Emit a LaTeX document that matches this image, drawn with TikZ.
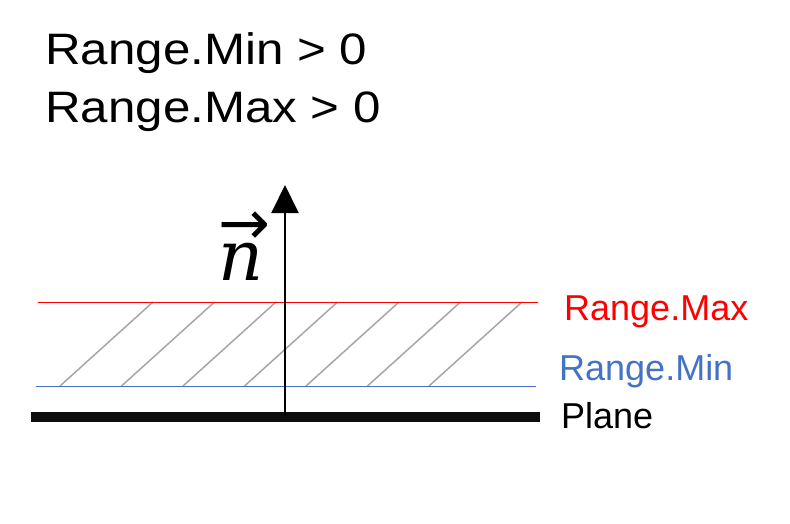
\documentclass[tikz,border=0pt]{standalone}
\usepackage{amsmath,amssymb}
\usepackage{fontspec}
\setmainfont{Liberation Sans}
\newfontfamily\dvserif{DejaVu Serif}
\newfontfamily\dvsans{DejaVu Sans}
\usepackage{tikz}
\usetikzlibrary{positioning,arrows.meta}
\usepackage{xcolor}
\definecolor{maxred}{HTML}{FF0000}
\definecolor{minblue}{HTML}{4472C4}
\definecolor{hatchgray}{HTML}{A6A6A6}

\begin{document}
\begin{tikzpicture}[x=1pt,y=-1pt,>={Triangle[length=28pt,width=27pt]}]
\useasboundingbox (0,0) rectangle (790,524);
% condition text
\node[anchor=base west,inner sep=0pt,font=\fontsize{44}{48}\selectfont,xscale=1.12,transform shape] (cmin) at (45,65) {Range.Min > 0};
\node[anchor=base west,inner sep=0pt,font=\fontsize{44}{48}\selectfont,xscale=1.12,transform shape] (cmax) at (45,123) {Range.Max > 0};
% hatching between min and max
\foreach \i in {0,...,6}
  \draw[hatchgray,line width=1.5pt] (60+61.5*\i,386) -- (153+61.5*\i,302);
\draw[maxred,line width=1pt] (38,302) -- (538,302);
\draw[minblue,line width=1pt] (36,386) -- (536,386);
\draw[black!95,line width=10pt] (31,416.5) -- (540,416.5);
% normal vector
\coordinate (base) at (285,416);
\coordinate (tip) at (285,185);
\draw[->,line width=2pt] (base) -- (tip);
\node[anchor=base,inner sep=0pt,font=\dvserif\itshape\fontsize{70}{76}\selectfont] (n) at (241,280) {n};
\node[inner sep=0pt,font=\dvsans\fontsize{62}{66}\selectfont] (narrow) at (244,228) {→};
% labels
\node[anchor=base west,inner sep=0pt,text=maxred,font=\fontsize{36}{40}\selectfont] (maxlbl) at (564,320) {Range.Max};
\node[anchor=base west,inner sep=0pt,text=minblue,font=\fontsize{36}{40}\selectfont] (minlbl) at (559,380) {Range.Min};
\node[anchor=base west,inner sep=0pt,font=\fontsize{36}{40}\selectfont] (plane) at (561,428) {Plane};
\end{tikzpicture}
\end{document}
